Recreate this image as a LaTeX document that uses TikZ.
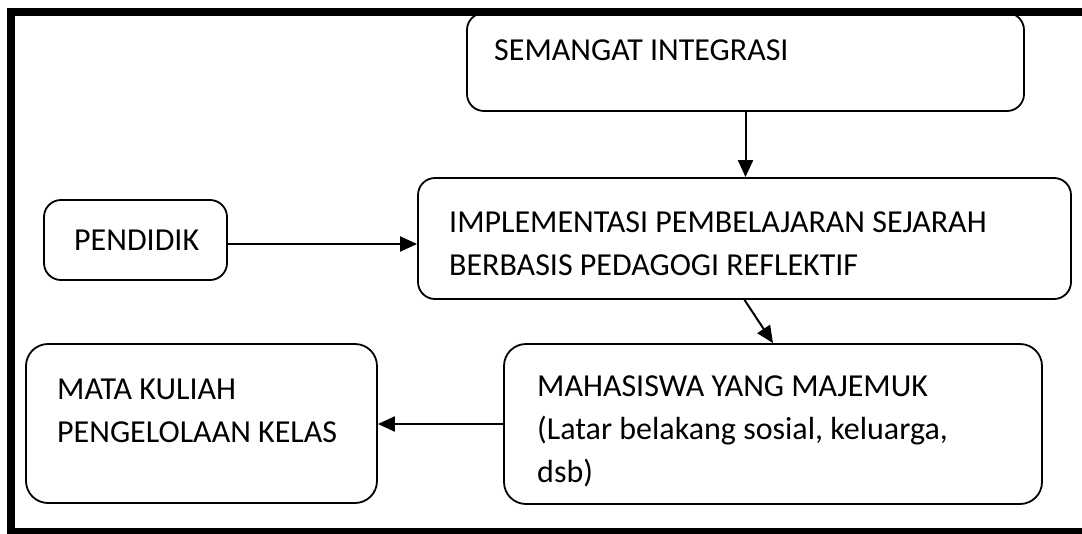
\documentclass[tikz,border=0pt]{standalone}
\usepackage{fontspec}
\setmainfont{Carlito}
\usetikzlibrary{arrows.meta}
\tikzset{
  boxnode/.style={draw, line width=1.8pt, rounded corners=17pt, inner sep=0pt},
  txt/.style={anchor=base west, inner sep=0pt, font=\fontsize{32}{43}\selectfont, align=left},
  conn/.style={line width=2pt, -{Triangle[length=17pt,width=15pt]}}
}
\begin{document}
\begin{tikzpicture}[x=1pt,y=-1pt]
\useasboundingbox (0,0) rectangle (1082,533);
\clip (0,0) rectangle (1082,533);
\fill[white] (0,0) rectangle (1082,533);
% outer frame
\draw[line width=8pt] (10.5,11.5) rectangle (1110,532);
% boxes
\node[boxnode, minimum width=557pt, minimum height=98pt] (b1) at (745.5,62) {};
\node[boxnode, minimum width=653pt, minimum height=121pt] (b2) at (744.5,238.5) {};
\node[boxnode, minimum width=183pt, minimum height=80pt] (b3) at (135.5,240) {};
\node[boxnode, minimum width=351pt, minimum height=159pt, rounded corners=22pt] (b4) at (201.5,423.5) {};
\node[boxnode, minimum width=538pt, minimum height=160pt, rounded corners=22pt] (b5) at (773,424) {};
% texts (base = baseline of last line)
\node[txt] (t1) at (494,60) {SEMANGAT INTEGRASI};
\node[txt] (t2) at (449,275) {IMPLEMENTASI PEMBELAJARAN SEJARAH\\BERBASIS PEDAGOGI REFLEKTIF};
\node[txt] (t3) at (74,250) {PENDIDIK};
\node[txt] (t4) at (57,442) {MATA KULIAH\\PENGELOLAAN KELAS};
\node[txt] (t5) at (537,482) {MAHASISWA YANG MAJEMUK\\(Latar belakang sosial, keluarga,\\dsb)};
% connectors
\draw[conn] (b1.south) -- (b1.south |- b2.north);
\draw[conn] ([yshift=-4pt]b3.east) -- ([yshift=-4pt]b3.east -| b2.west);
\draw[conn] (b2.south) -- (b5.north);
\draw[conn] (b5.west) -- (b5.west -| b4.east);
\end{tikzpicture}
\end{document}
